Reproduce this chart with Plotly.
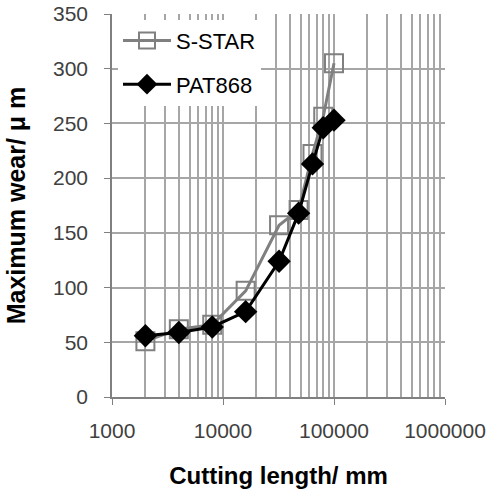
import plotly.graph_objects as go

# Data
cut_sstar = [2000, 4000, 8000, 16000, 32000, 48000, 64000, 80000, 100000]
wear_sstar = [51, 62, 66, 97, 157, 171, 222, 256, 305]
cut_pat = [2000, 4000, 8000, 16000, 32000, 48000, 64000, 80000, 100000]
wear_pat = [56, 59, 64, 78, 124, 168, 213, 246, 253]

x_major = [1000, 10000, 100000, 1000000]
x_minor = [m * d for d in (1000, 10000, 100000) for m in range(2, 10)]

GRID = "#a6a6a6"
tick_font = dict(family="Liberation Sans", size=21, color="#404040")
title_font = dict(family="Liberation Sans", size=24, color="#000000")

fig = go.Figure()
fig.add_trace(go.Scatter(
    x=cut_sstar, y=wear_sstar, name="S-STAR", mode="lines+markers",
    line=dict(color="#808080", width=3),
    marker=dict(symbol="square-open", size=18, color="#808080", line=dict(width=2, color="#808080")),
    legendgroup="a",
))
fig.add_trace(go.Scatter(
    x=cut_pat, y=wear_pat, name="PAT868", mode="lines+markers",
    line=dict(color="#000000", width=3),
    marker=dict(symbol="diamond", size=18, color="#000000"),
    legendgroup="b",
))

fig.update_layout(
    width=490, height=497,
    margin=dict(l=112, r=45, t=14, b=100, autoexpand=False),
    paper_bgcolor="white", plot_bgcolor="white",
    showlegend=True,
    legend=dict(
        x=0.018, y=0.985, xanchor="left", yanchor="top",
        bgcolor="white", font=dict(family="Liberation Sans", size=22, color="#000"),
        tracegroupgap=12, traceorder="grouped", itemwidth=48,
    ),
)
fig.update_xaxes(
    type="log", range=[3, 6], automargin=False,
    tickvals=x_major, ticktext=[str(v) for v in x_major],
    showgrid=True, gridcolor=GRID, gridwidth=1.5,
    minor=dict(tickvals=x_minor, showgrid=True, gridcolor=GRID, gridwidth=1.5),
    showline=True, linecolor="#808080", linewidth=1.5,
    ticks="outside", ticklen=6, tickcolor="#808080",
    tickfont=tick_font, ticklabelstandoff=8,
    title=dict(text="<b>Cutting length/ mm</b>", font=title_font, standoff=26),
    zeroline=False,
)
fig.update_yaxes(
    range=[0, 350], dtick=50, automargin=False,
    showgrid=True, gridcolor=GRID, gridwidth=1.5,
    showline=True, linecolor="#808080", linewidth=1.5,
    ticks="outside", ticklen=6, tickcolor="#808080",
    tickfont=tick_font, ticklabelstandoff=12,
    title=dict(text="<b>Maximum wear/ μ m</b>", font=dict(family="Liberation Sans", size=25, color="#000"), standoff=20),
    zeroline=False,
)

fig.write_html(
    "out.html",
    config={"displayModeBar": False},
    post_script="document.body.style.margin='0';document.body.style.overflow='hidden';",
)
